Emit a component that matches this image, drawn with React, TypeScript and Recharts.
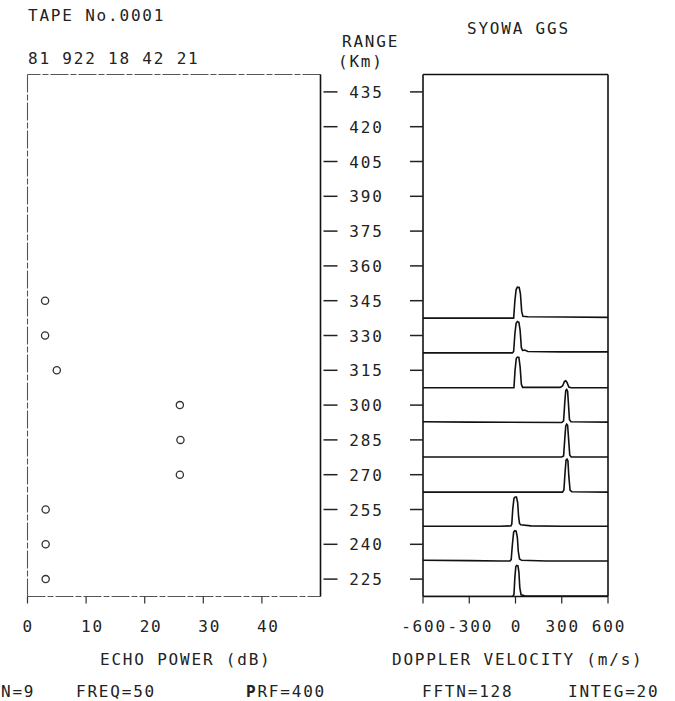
import React from "react";
import {
  ScatterChart,
  Scatter,
  LineChart,
  Line,
  XAxis,
  YAxis,
  ReferenceLine,
} from "recharts";

// ---------- data ----------
const rangeTicks = [225, 240, 255, 270, 285, 300, 315, 330, 345, 360, 375, 390, 405, 420, 435];
const powerTicks = [0, 10, 20, 30, 40];
const velocityTicks = [-600, -300, 0, 300, 600];

const gates = [345, 330, 315, 300, 285, 270, 255, 240, 225];
const echoPower = [3.0, 3.0, 5.0, 26.0, 26.1, 26.0, 3.1, 3.1, 3.1];

// spectra: [velocity m/s, normalised power (1 = one gate height)]
const spec345: number[][] = [[-600, 0], [-12, 0], [-4, 0.5], [4, 0.82], [12, 0.89], [24, 0.88], [32, 0.7], [40, 0.2], [48, 0.05], [80, 0.04], [300, 0.03], [600, 0.02]];
const spec330: number[][] = [[-600, 0], [-20, 0], [-12, 0.04], [-4, 0.55], [4, 0.85], [12, 0.9], [22, 0.88], [30, 0.65], [38, 0.15], [46, 0.07], [60, 0.08], [80, 0.04], [300, 0.03], [600, 0.03]];
const spec315: number[][] = [[-600, 0], [-10, 0], [-3, 0.5], [5, 0.84], [12, 0.88], [22, 0.87], [30, 0.6], [38, 0.1], [46, 0.01], [290, 0.01], [305, 0.05], [318, 0.18], [326, 0.2], [334, 0.15], [346, 0.02], [360, 0], [600, 0]];
const spec300: number[][] = [[-600, 0.02], [-300, 0.01], [300, 0], [312, 0.05], [320, 0.6], [326, 0.92], [332, 0.95], [338, 0.9], [344, 0.5], [350, 0.08], [360, 0.02], [600, 0.01]];
const spec285: number[][] = [[-600, 0.01], [300, 0.01], [312, 0.04], [320, 0.55], [326, 0.9], [332, 0.95], [338, 0.92], [344, 0.55], [352, 0.06], [362, 0.01], [600, 0.01]];
const spec270: number[][] = [[-600, 0], [305, 0], [314, 0.06], [322, 0.6], [328, 0.92], [334, 0.95], [340, 0.9], [346, 0.45], [354, 0.05], [366, 0.01], [600, 0]];
const spec255: number[][] = [[-600, 0.02], [-100, 0.02], [-30, 0.03], [-24, 0.08], [-18, 0.5], [-10, 0.82], [-2, 0.86], [6, 0.86], [14, 0.7], [20, 0.3], [26, 0.1], [34, 0.06], [100, 0.03], [300, 0.02], [600, 0.02]];
const spec240: number[][] = [[-600, 0.04], [-300, 0.03], [-100, 0.02], [-36, 0.02], [-28, 0.06], [-20, 0.5], [-12, 0.85], [-4, 0.89], [4, 0.88], [12, 0.7], [18, 0.3], [26, 0.08], [40, 0.04], [200, 0.02], [600, 0.02]];
const spec225: number[][] = [[-600, 0], [-18, 0], [-10, 0.06], [-4, 0.55], [2, 0.86], [8, 0.89], [16, 0.88], [22, 0.7], [28, 0.25], [36, 0.05], [60, 0.02], [600, 0.01]];
const spectra = [spec345, spec330, spec315, spec300, spec285, spec270, spec255, spec240, spec225];

const GATE_WIDTH = 15;

// ---------- derived tables ----------
const scatterData = gates.map((g, i) => ({ p: echoPower[i], r: g }));
const spectrumSeries = gates.map((g, i) =>
  spectra[i].map(([v, pw]) => ({ v, y: g - GATE_WIDTH / 2 + pw * GATE_WIDTH }))
);

// ---------- styles ----------
const FONT = '"DejaVu Sans Mono", monospace';
const TXT = { fontFamily: FONT, fontSize: 16, letterSpacing: 1.8, fill: "#222" } as const;
const W = 675;
const H = 701;
const PLOT_TOP = 74.5;
const PLOT_BOTTOM = 596.5;
const X_AXIS_H = 40;
const yDomain: [number, number] = [217.5, 442.5];

const LeftXTick = (props: any) => {
  const { x, y, payload } = props;
  return (
    <g>
      <line x1={x} y1={y} x2={x} y2={y + 7} stroke="#333" strokeWidth={1.2} />
      <text x={x - 5} y={y + 35.5} textAnchor="start" style={TXT}>
        {payload.value}
      </text>
    </g>
  );
};

const RangeTick = (props: any) => {
  const { x, y, payload } = props;
  return (
    <g>
      <line x1={x + 3} y1={y} x2={x + 17} y2={y} stroke="#222" strokeWidth={1.5} />
      <text x={x + 46} y={y + 6} textAnchor="middle" style={TXT}>
        {payload.value}
      </text>
    </g>
  );
};

const RightYTick = (props: any) => {
  const { x, y } = props;
  return <line x1={x - 13} y1={y} x2={x} y2={y} stroke="#222" strokeWidth={1.5} />;
};

const VelTick = (props: any) => {
  const { x, y, payload } = props;
  return (
    <g>
      <line x1={x} y1={y} x2={x} y2={y + 7} stroke="#222" strokeWidth={1.2} />
      <text x={x + 1} y={y + 35.5} textAnchor="middle" style={TXT}>
        {payload.value}
      </text>
    </g>
  );
};

const OpenCircle = (props: any) => (
  <circle cx={props.cx} cy={props.cy} r={3.6} fill="none" stroke="#333" strokeWidth={1.3} />
);

const dashed = { stroke: "#555", strokeWidth: 1.1, strokeDasharray: "18 2 6 2" };

export default function App() {
  return (
    <div style={{ position: "absolute", left: 0, top: 0, width: W, height: H, background: "#fff", fontFamily: FONT }}>
      {/* echo power / range panel */}
      <div style={{ position: "absolute", left: 0, top: 0 }}>
        <ScatterChart
          width={W}
          height={H}
          margin={{ top: PLOT_TOP, right: W - 320.5 - 60, bottom: H - PLOT_BOTTOM - X_AXIS_H, left: 27.5 }}
        >
          <XAxis
            type="number"
            dataKey="p"
            domain={[0, 50]}
            ticks={powerTicks}
            allowDataOverflow
            height={X_AXIS_H}
            tickSize={0}
            tickMargin={0}
            tickLine={false}
            axisLine={dashed}
            tick={<LeftXTick />}
            interval={0}
          />
          <YAxis
            type="number"
            dataKey="r"
            orientation="right"
            domain={yDomain}
            ticks={rangeTicks}
            allowDataOverflow
            width={60}
            tickSize={0}
            tickMargin={0}
            tickLine={false}
            axisLine={{ stroke: "#111", strokeWidth: 1.6 }}
            tick={<RangeTick />}
            interval={0}
          />
          <ReferenceLine y={442.5} {...dashed} />
          <ReferenceLine x={0} {...dashed} />
          <Scatter data={scatterData} shape={<OpenCircle />} isAnimationActive={false} />
        </ScatterChart>
      </div>

      {/* Doppler spectra panel */}
      <div style={{ position: "absolute", left: 0, top: 0 }}>
        <LineChart
          width={W}
          height={H}
          margin={{ top: PLOT_TOP, right: W - 608, bottom: H - PLOT_BOTTOM - X_AXIS_H, left: 423 - 30 }}
        >
          <XAxis
            type="number"
            dataKey="v"
            domain={[-600, 600]}
            ticks={velocityTicks}
            allowDataOverflow
            height={X_AXIS_H}
            tickSize={0}
            tickMargin={0}
            tickLine={false}
            axisLine={{ stroke: "#111", strokeWidth: 1.6 }}
            tick={<VelTick />}
            interval={0}
          />
          <YAxis
            type="number"
            domain={yDomain}
            ticks={rangeTicks}
            allowDataOverflow
            width={30}
            tickSize={0}
            tickMargin={0}
            tickLine={false}
            axisLine={{ stroke: "#111", strokeWidth: 1.6 }}
            tick={<RightYTick />}
            interval={0}
          />
          <ReferenceLine y={442.5} stroke="#111" strokeWidth={1.6} />
          <ReferenceLine x={600} stroke="#111" strokeWidth={1.6} />
          {spectrumSeries.map((s, i) => (
            <Line
              key={gates[i]}
              data={s}
              dataKey="y"
              type="linear"
              stroke="#111"
              strokeWidth={1.6}
              dot={false}
              isAnimationActive={false}
            />
          ))}
        </LineChart>
      </div>

      {/* header / footer text */}
      <svg width={W} height={H} style={{ position: "absolute", left: 0, top: 0, pointerEvents: "none" }}>
        <text x={28} y={21} style={TXT}>TAPE No.0001</text>
        <text x={28} y={64} style={TXT}>81 922 18 42 21</text>
        <text x={467} y={34} style={TXT}>SYOWA GGS</text>
        <text x={342} y={47} style={TXT}>RANGE</text>
        <text x={338} y={67} style={TXT}>(Km)</text>
        <text x={100} y={665} style={TXT}>ECHO POWER (dB)</text>
        <text x={392} y={665} style={TXT}>DOPPLER VELOCITY (m/s)</text>
        <text x={1} y={697} style={TXT}>N=9</text>
        <text x={76} y={697} style={TXT}>FREQ=50</text>
        <text x={246} y={697} style={TXT}>
          <tspan fontWeight="bold">P</tspan>RF=400
        </text>
        <text x={422} y={697} style={TXT}>FFTN=128</text>
        <text x={568} y={697} style={TXT}>INTEG=20</text>
      </svg>
    </div>
  );
}
